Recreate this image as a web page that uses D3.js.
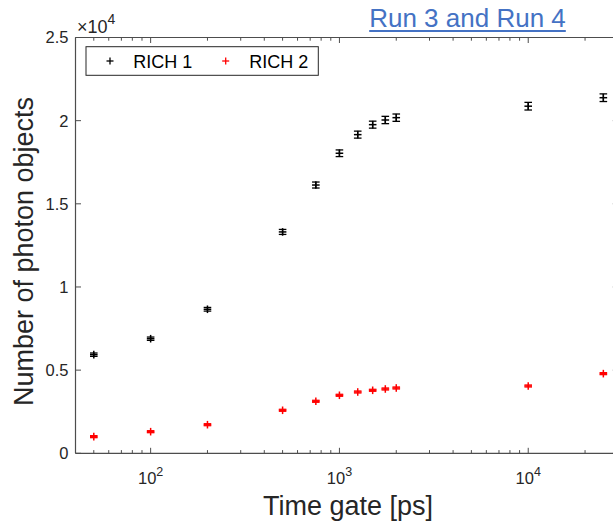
<!DOCTYPE html>
<html>
<head>
<meta charset="utf-8">
<script src="https://cdn.jsdelivr.net/npm/d3@7"></script>
<style>
  html, body { margin: 0; padding: 0; background: #fff; }
  svg { display: block; font-family: "Liberation Sans", Arial, Helvetica, sans-serif; }
</style>
</head>
<body>
<svg id="chart" width="613" height="523"></svg>
<script>
// Time gate values [ps]
const timeGates = [50, 100, 200, 500, 750, 1000, 1250, 1500, 1750, 2000, 10000, 25000];
// Number of photon objects per detector
const rich1Values = [5930, 6890, 8660, 13310, 16130, 18040, 19160, 19760, 20040, 20180, 20870, 21380];
const rich1Errors = [100, 100, 110, 150, 180, 200, 210, 210, 220, 220, 230, 230];
const rich2Values = [1000, 1300, 1720, 2586, 3127, 3488, 3686, 3788, 3867, 3927, 4047, 4790];
const rich2Errors = [60, 60, 60, 60, 60, 60, 60, 60, 60, 60, 60, 60];
const yTickValues = [0, 5000, 10000, 15000, 20000, 25000];
const yTickLabels = ["0", "0.5", "1", "1.5", "2", "2.5"];
const xMajorTicks = [100, 1000, 10000];
const xMajorExponents = ["2", "3", "4"];
const seriesNames = ["RICH 1", "RICH 2"];
const seriesColors = ["#000000", "#ff0000"];

const svg = d3.select("#chart");
const textColor = "#262626";
const axisColor = "#4d4d4d";

const x = d3.scaleLog().domain([40, 30000]).range([75.5, 618.3]);
const y = d3.scaleLinear().domain([0, 25000]).range([453.3, 37.5]);

const [x0, x1] = x.range();
const [yb, yt] = y.range();

// Box outline
const box = svg.append("g").attr("stroke", axisColor).attr("stroke-width", 1.2).attr("fill", "none");
box.append("line").attr("x1", x0).attr("x2", x1).attr("y1", yb).attr("y2", yb);
box.append("line").attr("x1", x0).attr("x2", x1).attr("y1", yt).attr("y2", yt);
box.append("line").attr("x1", x0).attr("x2", x0).attr("y1", yt).attr("y2", yb);
box.append("line").attr("x1", x1).attr("x2", x1).attr("y1", yt).attr("y2", yb);

// X ticks (major + minor), drawn inward on bottom and top
const minorTicks = [];
for (let d = 10; d <= 10000; d *= 10) {
  for (let k = 1; k <= 9; k++) {
    const v = k * d;
    if (v >= 40 && v <= 30000 && k !== 1) minorTicks.push(v);
  }
}
const tickG = svg.append("g").attr("stroke", axisColor).attr("stroke-width", 1);
minorTicks.forEach(v => {
  tickG.append("line").attr("x1", x(v)).attr("x2", x(v)).attr("y1", yb).attr("y2", yb - 3.2);
  tickG.append("line").attr("x1", x(v)).attr("x2", x(v)).attr("y1", yt).attr("y2", yt + 3.2);
});
xMajorTicks.forEach(v => {
  tickG.append("line").attr("x1", x(v)).attr("x2", x(v)).attr("y1", yb).attr("y2", yb - 5.5);
  tickG.append("line").attr("x1", x(v)).attr("x2", x(v)).attr("y1", yt).attr("y2", yt + 5.5);
});
// Y ticks on left and right
yTickValues.forEach(v => {
  tickG.append("line").attr("x1", x0).attr("x2", x0 + 5.5).attr("y1", y(v)).attr("y2", y(v));
  tickG.append("line").attr("x1", x1).attr("x2", x1 - 5.5).attr("y1", y(v)).attr("y2", y(v));
});

// Y tick labels
svg.append("g").selectAll("text").data(yTickValues).join("text")
  .attr("x", 68.5).attr("y", d => y(d)).attr("dy", "0.36em")
  .attr("text-anchor", "end").attr("font-size", 16.5).attr("fill", textColor)
  .text((d, i) => yTickLabels[i]);

// Exponent multiplier above y axis
const mult = svg.append("text").attr("x", 77).attr("y", 32.5)
  .style("font-size", "18px").attr("fill", textColor);
mult.append("tspan").style("font-size", "18px").text("×10");
mult.append("tspan").style("font-size", "14px").attr("dy", -9).text("4");

// X tick labels as powers of ten
xMajorTicks.forEach((v, i) => {
  const t = svg.append("text").attr("x", x(v)).attr("y", 484.3)
    .attr("text-anchor", "middle").style("font-size", "16.5px").attr("fill", textColor);
  t.append("tspan").style("font-size", "16.5px").text("10");
  t.append("tspan").style("font-size", "12.5px").attr("dy", -8).text(xMajorExponents[i]);
});

// Axis titles
svg.append("text").attr("x", 348).attr("y", 514.5).attr("text-anchor", "middle")
  .attr("font-size", 27).attr("fill", textColor).text("Time gate [ps]");
svg.append("text").attr("transform", "translate(33,251.5) rotate(-90)")
  .attr("text-anchor", "middle").attr("font-size", 27).attr("fill", textColor)
  .text("Number of photon objects");

// Title with underline
const title = svg.append("text").attr("x", 467.5).attr("y", 26.5).attr("text-anchor", "middle")
  .attr("font-size", 26).attr("fill", "#4472c4").text("Run 3 and Run 4");
const tw = title.node().getComputedTextLength();
svg.append("line").attr("x1", 467.5 - tw / 2).attr("x2", 467.5 + tw / 2)
  .attr("y1", 31).attr("y2", 31).attr("stroke", "#4472c4").attr("stroke-width", 2);

// Data: error bars + plus markers
function drawSeries(values, errors, color) {
  const g = svg.append("g").attr("stroke", color).attr("fill", "none");
  const capW = 3.8, arm = 3.8;
  timeGates.forEach((t, i) => {
    const cx = x(t), v = values[i], e = errors[i];
    const lo = y(v - e), hi = y(v + e);
    g.append("line").attr("x1", cx).attr("x2", cx).attr("y1", lo).attr("y2", hi).attr("stroke-width", 1.3);
    g.append("line").attr("x1", cx - capW).attr("x2", cx + capW).attr("y1", lo).attr("y2", lo).attr("stroke-width", 1.3);
    g.append("line").attr("x1", cx - capW).attr("x2", cx + capW).attr("y1", hi).attr("y2", hi).attr("stroke-width", 1.3);
    g.append("line").attr("x1", cx - arm).attr("x2", cx + arm).attr("y1", y(v)).attr("y2", y(v)).attr("stroke-width", 1.5);
    g.append("line").attr("x1", cx).attr("x2", cx).attr("y1", y(v) - arm).attr("y2", y(v) + arm).attr("stroke-width", 1.5);
  });
}
drawSeries(rich1Values, rich1Errors, seriesColors[0]);
drawSeries(rich2Values, rich2Errors, seriesColors[1]);

// Legend
const leg = svg.append("g");
leg.append("rect").attr("x", 86).attr("y", 46.7).attr("width", 232.3).attr("height", 28.6)
  .attr("fill", "#fff").attr("stroke", textColor).attr("stroke-width", 1);
const legX = [110, 225.7];
const legTextX = [133.3, 249.3];
seriesNames.forEach((name, i) => {
  const cx = legX[i], cy = 61;
  leg.append("line").attr("x1", cx - 3.5).attr("x2", cx + 3.5).attr("y1", cy).attr("y2", cy)
    .attr("stroke", seriesColors[i]).attr("stroke-width", 1.3);
  leg.append("line").attr("x1", cx).attr("x2", cx).attr("y1", cy - 3.5).attr("y2", cy + 3.5)
    .attr("stroke", seriesColors[i]).attr("stroke-width", 1.3);
  leg.append("text").attr("x", legTextX[i]).attr("y", 68).attr("font-size", 18)
    .attr("fill", "#000").text(name);
});
</script>
</body>
</html>
